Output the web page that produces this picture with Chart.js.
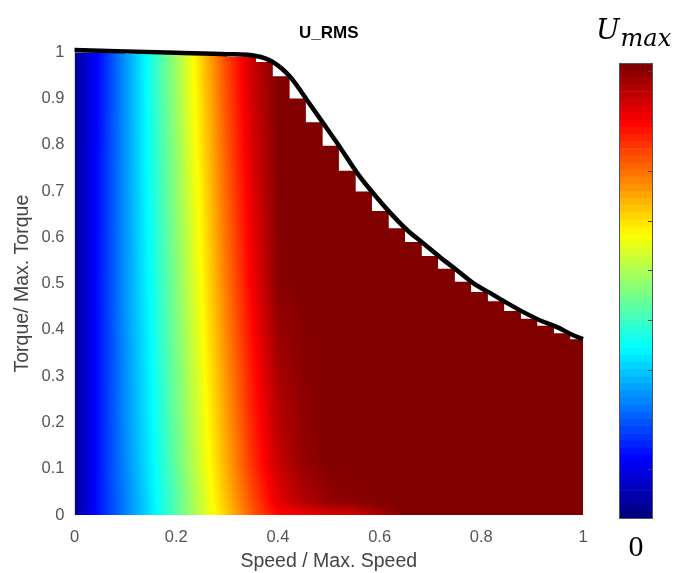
<!DOCTYPE html>
<html><head><meta charset="utf-8">
<script src="https://cdn.jsdelivr.net/npm/chart.js@4.4.0/dist/chart.umd.min.js"></script>
<style>
html,body{margin:0;padding:0;background:#fff;}
#wrap{position:relative;width:680px;height:573px;}
#main{position:absolute;left:0;top:0;}
#cbar{position:absolute;left:590px;top:0;}
</style></head><body>
<div id="wrap"><canvas id="main" width="680" height="573"></canvas><canvas id="cbar" width="90" height="573"></canvas></div>
<script>
// ---- data ----
const X_TICKS = [0, 0.2, 0.4, 0.6, 0.8, 1];
const Y_TICKS = [0, 0.1, 0.2, 0.3, 0.4, 0.5, 0.6, 0.7, 0.8, 0.9, 1];
const CB_MAX = 0.917;
const CB_TICKS = [0.1, 0.2, 0.3, 0.4, 0.5, 0.6, 0.7, 0.8, 0.9];

// max-torque envelope (black curve)
const ENV_SPEED  = [0, 0.1, 0.2, 0.3, 0.357, 0.39, 0.424, 0.457, 0.489, 0.522, 0.556, 0.587, 0.621, 0.654, 0.685, 0.719, 0.752, 0.784, 0.817, 0.851, 0.882, 0.915, 0.949, 0.98, 1.0];
const ENV_TORQUE = [1.005, 1.002, 0.999, 0.996, 0.992, 0.979, 0.947, 0.897, 0.847, 0.795, 0.739, 0.696, 0.653, 0.616, 0.588, 0.557, 0.529, 0.501, 0.480, 0.458, 0.439, 0.421, 0.406, 0.389, 0.380];

// top of the computed (coloured) region, one step per speed grid column
const FILL_SPEED  = [0, 0.1, 0.2, 0.3, 0.357, 0.390, 0.423, 0.455, 0.488, 0.520, 0.553, 0.585, 0.618, 0.650, 0.683, 0.715, 0.748, 0.780, 0.813, 0.845, 0.878, 0.910, 0.943, 0.975, 1.0];
const FILL_TORQUE = [1.0, 1.0, 0.997, 0.994, 0.99, 0.979, 0.948, 0.900, 0.849, 0.798, 0.744, 0.699, 0.657, 0.620, 0.590, 0.560, 0.532, 0.504, 0.482, 0.462, 0.441, 0.424, 0.409, 0.393, 0.380];

// U_RMS / U_max on a speed x torque grid
const HM_SPEED  = [0, 0.05, 0.1, 0.15, 0.2, 0.25, 0.3, 0.35, 0.4, 0.45, 0.5, 0.55, 0.6, 0.65, 0.7, 0.75, 0.8, 0.85, 0.9, 0.95, 1.0];
const HM_TORQUE = [0, 0.03, 0.12, 0.5, 1.0];
const U_T000 = [0.02, 0.15, 0.25, 0.35, 0.46, 0.57, 0.68, 0.79, 0.87, 0.89, 0.91, 0.92, 0.96, 1, 1, 1, 1, 1, 1, 1, 1];
const U_T003 = [0.02, 0.15, 0.25, 0.35, 0.46, 0.575, 0.69, 0.80, 0.90, 0.95, 0.98, 0.99, 1, 1, 1, 1, 1, 1, 1, 1, 1];
const U_T012 = [0.02, 0.15, 0.26, 0.36, 0.475, 0.59, 0.71, 0.83, 0.93, 0.98, 1, 1, 1, 1, 1, 1, 1, 1, 1, 1, 1];
const U_T050 = [0.02, 0.15, 0.27, 0.38, 0.50, 0.625, 0.76, 0.885, 0.99, 1, 1, 1, 1, 1, 1, 1, 1, 1, 1, 1, 1];
const U_T100 = [0.02, 0.14, 0.27, 0.40, 0.53, 0.67, 0.81, 0.93, 1, 1, 1, 1, 1, 1, 1, 1, 1, 1, 1, 1, 1];
const U_ROWS = [U_T000, U_T003, U_T012, U_T050, U_T100];

// ---- helpers ----
function jet(v){
  v = Math.max(0, Math.min(1, v));
  const c = x => Math.max(0, Math.min(1, x));
  return [c(Math.min(4*v-1.5, -4*v+4.5)), c(Math.min(4*v-0.5, -4*v+3.5)), c(Math.min(4*v+0.5, -4*v+2.5))];
}
function interp1(xs, ys, x){
  if (x <= xs[0]) return ys[0];
  for (let i = 1; i < xs.length; i++){
    if (x <= xs[i]){ const f = (x-xs[i-1])/(xs[i]-xs[i-1]); return ys[i-1] + f*(ys[i]-ys[i-1]); }
  }
  return ys[ys.length-1];
}
function uAt(s, t){
  const col = U_ROWS.map(r => interp1(HM_SPEED, r, s));
  return interp1(HM_TORQUE, col, t);
}
let patCache = null;
function heatPattern(ctx){
  const chart = ctx.chart, a = chart.chartArea;
  if (!a || !chart.scales.x) return 'rgba(0,0,0,0)';
  const key = [a.left, a.top, a.right, a.bottom].join(',');
  if (patCache && patCache.key === key) return patCache.pat;
  const xs = chart.scales.x, ys = chart.scales.y;
  const off = document.createElement('canvas');
  off.width = chart.width; off.height = chart.height;
  const oc = off.getContext('2d');
  const x0 = Math.floor(a.left), x1 = Math.ceil(a.right), y0 = Math.floor(a.top) - 4, y1 = Math.ceil(a.bottom);
  const w = x1 - x0, h = y1 - y0;
  const img = oc.createImageData(w, h);
  for (let py = 0; py < h; py++){
    const t = ys.getValueForPixel(y0 + py + 0.5);
    for (let px = 0; px < w; px++){
      const s = xs.getValueForPixel(x0 + px + 0.5);
      const [r, g, b] = jet(uAt(s, t));
      const k = (py*w + px)*4;
      img.data[k] = Math.round(r*255); img.data[k+1] = Math.round(g*255); img.data[k+2] = Math.round(b*255); img.data[k+3] = 255;
    }
  }
  oc.putImageData(img, x0, y0);
  const pat = chart.ctx.createPattern(off, 'no-repeat');
  patCache = {key, pat};
  return pat;
}

const FONT = 'Liberation Sans, Arial, Helvetica, sans-serif';

new Chart(document.getElementById('main'), {
  type: 'line',
  data: {
    datasets: [
      {
        label: 'envelope',
        data: ENV_SPEED.map((s, i) => ({x: s, y: ENV_TORQUE[i]})),
        borderColor: '#000', borderWidth: 4.5, pointRadius: 0, fill: false,
        cubicInterpolationMode: 'monotone', clip: false, order: 0
      },
      {
        label: 'U_RMS',
        data: FILL_SPEED.map((s, i) => ({x: s, y: FILL_TORQUE[i]})),
        stepped: 'after', borderWidth: 0, borderColor: 'rgba(0,0,0,0)', pointRadius: 0,
        fill: 'origin', backgroundColor: heatPattern, order: 1
      }
    ]
  },
  options: {
    responsive: false, animation: false, devicePixelRatio: 1,
    layout: {padding: {left: 0, right: 97, top: 0, bottom: 0}},
    plugins: {
      legend: {display: false}, tooltip: {enabled: false},
      title: {display: true, text: 'U_RMS', fullSize: false, color: '#000',
        font: {family: FONT, size: 17, weight: 'bold'}, padding: {top: 22.8, bottom: 9.1}}
    },
    scales: {
      x: {
        type: 'linear', min: 0, max: 1,
        afterBuildTicks: s => { s.ticks = X_TICKS.map(v => ({value: v})); },
        afterFit: s => { s.height = 58; },
        grid: {display: false}, border: {display: false},
        ticks: {color: '#555', font: {family: FONT, size: 16.5}, padding: 5, maxRotation: 0, callback: v => String(v)},
        title: {display: true, text: 'Speed / Max. Speed', color: '#444', font: {family: FONT, size: 19.5}, padding: {top: 0, bottom: 0}}
      },
      y: {
        type: 'linear', min: 0, max: 1,
        afterBuildTicks: s => { s.ticks = Y_TICKS.map(v => ({value: v})); },
        afterFit: s => { s.width = 74.5; },
        grid: {display: false}, border: {display: false},
        ticks: {color: '#555', font: {family: FONT, size: 16.5}, padding: 2, callback: v => String(v)},
        title: {display: true, text: 'Torque/ Max. Torque', color: '#444', font: {family: FONT, size: 19.5}, padding: {top: 11, bottom: 0}}
      }
    }
  }
});

// ---- colour bar ----
const cbDatasets = [];
for (let k = 0; k < 64; k++){
  const [r, g, b] = jet(k/63);
  cbDatasets.push({data: [CB_MAX/64], backgroundColor: `rgb(${Math.round(r*255)},${Math.round(g*255)},${Math.round(b*255)})`,
    borderWidth: 0, barPercentage: 1, categoryPercentage: 1, stack: 'cb'});
}
const cbPlugin = {
  id: 'cbDecor',
  afterDraw(chart){
    const {ctx, chartArea: a, scales} = chart;
    ctx.save();
    ctx.strokeStyle = '#444'; ctx.lineWidth = 1;
    CB_TICKS.forEach(v => {
      const y = Math.round(scales.y.getPixelForValue(v)) + 0.5;
      ctx.beginPath(); ctx.moveTo(a.right - 5, y); ctx.lineTo(a.right, y); ctx.stroke();
    });
    ctx.strokeStyle = '#555';
    ctx.strokeRect(Math.round(a.left) + 0.5, Math.round(a.top) + 0.5, Math.round(a.right - a.left) - 1, Math.round(a.bottom - a.top) - 1);
    ctx.fillStyle = '#000';
    ctx.textBaseline = 'alphabetic';
    ctx.font = 'italic 28px "DejaVu Serif", serif';
    ctx.fillText('U', 6, 39);
    const wU = ctx.measureText('U').width;
    ctx.font = 'italic 24px "DejaVu Serif", serif';
    ctx.fillText('max', 6 + wU + 1, 46);
    ctx.restore();
  }
};
new Chart(document.getElementById('cbar'), {
  type: 'bar',
  data: {labels: [''], datasets: cbDatasets},
  options: {
    responsive: false, animation: false, devicePixelRatio: 1,
    layout: {padding: {left: 29, right: 27, top: 63, bottom: 0}},
    plugins: {legend: {display: false}, tooltip: {enabled: false}, title: {display: false}},
    scales: {
      x: {stacked: true, grid: {display: false}, border: {display: false}, ticks: {display: false},
        afterFit: s => { s.height = 54; },
        title: {display: true, text: '0', color: '#000', font: {family: 'Liberation Serif, serif', size: 30}, padding: {top: 0, bottom: 7}}},
      y: {stacked: true, display: false, min: 0, max: CB_MAX}
    }
  },
  plugins: [cbPlugin]
});
</script></body></html>
